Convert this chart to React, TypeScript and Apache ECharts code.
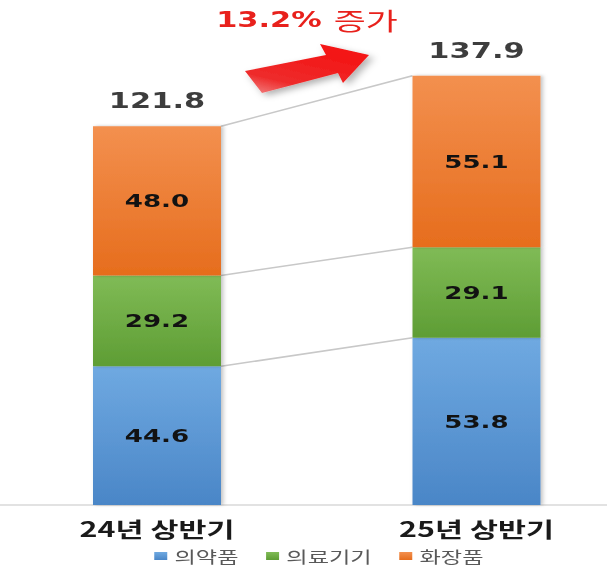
import React, { useEffect, useRef } from "react";
import * as echarts from "echarts";

// ---- data ----
const categories = ["24년 상반기", "25년 상반기"];
const seriesNames = ["의약품", "의료기기", "화장품"];
const pharma = [44.6, 53.8];
const medical = [29.2, 29.1];
const cosmetics = [48.0, 55.1];
const totals = [121.8, 137.9];
const growthSuffix = "증가";

// ---- layout (screen px, the picture is stretched horizontally) ----
const S = 1.45;
const W = 607;
const H = 568;
const IW = W / S;
const sx = (x: number) => x / S;

const grad = (top: string, bottom: string) =>
  new echarts.graphic.LinearGradient(0, 0, 0, 1, [
    { offset: 0, color: top },
    { offset: 1, color: bottom },
  ]);

export default function App() {
  const ref = useRef<HTMLDivElement>(null);

  useEffect(() => {
    if (!ref.current) return;
    const chart = echarts.init(ref.current, null, { renderer: "svg" });
    const barW = sx(128);

    const stacks = [pharma, medical, cosmetics];
    const boundaries: number[][] = [];
    let cum = [0, 0];
    stacks.forEach((s) => {
      cum = [cum[0] + s[0], cum[1] + s[1]];
      boundaries.push([0, cum[0], cum[1]]);
    });

    const growth = ((totals[1] / totals[0] - 1) * 100).toFixed(1) + "%";

    const segLabel = {
      show: true,
      position: "inside",
      formatter: (p: any) => Number(p.value).toFixed(1),
      fontFamily: "DejaVu Sans",
      fontWeight: "bold",
      fontSize: 18,
      color: "#121212",
    };
    const barShadow = {
      shadowBlur: 3,
      shadowColor: "rgba(0,0,0,0.25)",
      shadowOffsetX: 1.5,
    };
    const colors = [
      ["#6fa9e1", "#4a86c7"],
      ["#80bb56", "#5e9d34"],
      ["#f3904f", "#e66d1d"],
    ];

    const arrowPts = [
      [245, 71],
      [326, 55],
      [320, 44],
      [369, 55],
      [343, 83],
      [338, 73],
      [262, 93],
    ].map(([x, y]) => [sx(x), y]);

    chart.setOption({
      animation: false,
      backgroundColor: "#ffffff",
      grid: {
        left: sx(-2.75),
        width: sx(639),
        top: 38.5,
        bottom: 63,
        containLabel: false,
        outerBoundsMode: "none",
      },
      xAxis: {
        type: "category",
        data: categories,
        axisLine: { lineStyle: { color: "#d9d9d9", width: 1.5 } },
        axisTick: { show: false },
        axisLabel: {
          margin: 13,
          fontSize: 21,
          fontWeight: "bold",
          color: "#1a1a1a",
          fontFamily: '"Noto Sans CJK KR", sans-serif',
        },
      },
      yAxis: { type: "value", min: 0, max: 150, show: false },
      legend: {
        data: seriesNames,
        left: sx(147),
        top: 543,
        icon: "rect",
        itemWidth: sx(13),
        itemHeight: 8,
        itemGap: 19,
        textStyle: {
          color: "#595959",
          fontSize: 16,
          fontFamily: '"Noto Sans CJK KR", sans-serif',
        },
      },
      graphic: [
        {
          type: "polygon",
          shape: { points: arrowPts },
          style: {
            fill: new echarts.graphic.LinearGradient(0, 1, 0.6, 0, [
              { offset: 0, color: "#f28585" },
              { offset: 0.3, color: "#ee2c2c" },
              { offset: 1, color: "#f41212" },
            ]),
            shadowBlur: 6,
            shadowColor: "rgba(0,0,0,0.3)",
            shadowOffsetX: 3,
            shadowOffsetY: 3,
          },
        },
        {
          type: "text",
          x: sx(307),
          y: 20,
          style: {
            text: `{a|${growth}} {b|${growthSuffix}}`,
            align: "center",
            verticalAlign: "middle",
            rich: {
              a: {
                fontSize: 21,
                fontWeight: "bold",
                fontFamily: "DejaVu Sans",
                fill: "#e8211c",
              },
              b: {
                fontSize: 24,
                fontFamily: '"Noto Sans CJK KR"',
                fill: "#e8211c",
                padding: [0, 0, 0, 5],
              },
            },
          },
        },
      ],
      series: [
        ...stacks.map((d, i) => ({
          name: seriesNames[i],
          type: "bar",
          stack: "total",
          barWidth: barW,
          data: d,
          z: 3,
          itemStyle: { color: grad(colors[i][0], colors[i][1]), ...barShadow },
          label: segLabel,
        })),
        {
          name: "connect",
          type: "custom",
          silent: true,
          z: 1,
          data: boundaries,
          encode: { x: 0, y: [1, 2] },
          renderItem: (params: any, api: any) => {
            const p0 = api.coord([0, api.value(1)]);
            const p1 = api.coord([1, api.value(2)]);
            return {
              type: "line",
              shape: {
                x1: p0[0] + barW / 2,
                y1: p0[1],
                x2: p1[0] - barW / 2,
                y2: p1[1],
              },
              style: { stroke: "#c8c8c8", lineWidth: 1.5 },
            };
          },
        },
        {
          name: "total",
          type: "scatter",
          symbolSize: 0,
          data: totals,
          z: 5,
          label: {
            show: true,
            position: "top",
            distance: 15,
            formatter: (p: any) => Number(p.value).toFixed(1),
            fontFamily: "DejaVu Sans",
            fontWeight: "bold",
            fontSize: 21,
            color: "#0d0d0d",
          },
        },
      ],
    });

    return () => chart.dispose();
  }, []);

  return (
    <div
      style={{
        position: "absolute",
        left: 0,
        top: 0,
        width: W,
        height: H,
        overflow: "hidden",
        background: "#fff",
      }}
    >
      <div
        ref={ref}
        style={{
          width: IW,
          height: H,
          transform: `scaleX(${S})`,
          transformOrigin: "0 0",
        }}
      />
    </div>
  );
}
